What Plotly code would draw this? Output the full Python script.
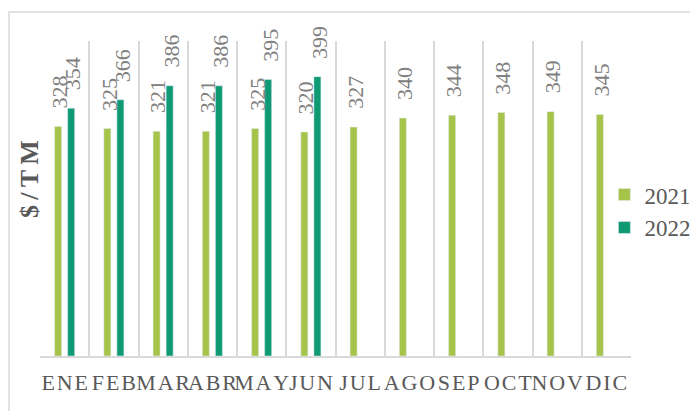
import plotly.graph_objects as go

months = ["ENE", "FEB", "MAR", "ABR", "MAY", "JUN", "JUL", "AGO", "SEP", "OCT", "NOV", "DIC"]
v2021 = [328, 325, 321, 321, 325, 320, 327, 340, 344, 348, 349, 345]
v2022 = [354, 366, 386, 386, 395, 399, None, None, None, None, None, None]
tick_text = ["\u200a".join(m) for m in months]
y_title = "$/TM"

c2021 = "#A6C34A"
c2022 = "#0F9A74"
font_family = "Liberation Serif"

fig = go.Figure()
fig.add_trace(go.Bar(name="2021", x=months, y=v2021, marker_color=c2021, legendgroup="a"))
fig.add_trace(go.Bar(name="2022", x=months, y=v2022, marker_color=c2022, legendgroup="b"))

annotations = []
for series, shift in ((v2021, -5), (v2022, 8)):
    for m, v in zip(months, series):
        if v is None:
            continue
        annotations.append(dict(
            x=m, y=v, xref="x", yref="y", text=str(v), showarrow=False,
            textangle=-90, xanchor="center", yanchor="bottom",
            xshift=shift, yshift=16,
            font=dict(family=font_family, size=22, color="#808080"),
        ))

# y-axis title (bold, letter-spaced, sits above the plot's vertical centre)
annotations.append(dict(
    x=0, y=0.562, xref="paper", yref="paper", xshift=-10,
    text="<b>" + "\u2009".join(y_title) + "</b>", showarrow=False,
    textangle=-90, xanchor="center", yanchor="middle",
    font=dict(family=font_family, size=26, color="#595959"),
))

# page body has an 8px margin: figure occupies x 8..698, y 8..411
fig.update_layout(
    width=690, height=403,
    margin=dict(l=32, r=67, t=33, b=55, autoexpand=False),
    paper_bgcolor="white", plot_bgcolor="white",
    barmode="group", bargap=0.47, bargroupgap=0.46,
    font=dict(family=font_family, color="#595959"),
    showlegend=True,
    legend=dict(x=0.955, xanchor="left", y=0.46, yanchor="middle",
                font=dict(family=font_family, size=23, color="#595959"),
                tracegroupgap=21, itemwidth=30, traceorder="normal",
                bgcolor="rgba(0,0,0,0)"),
    annotations=annotations,
    shapes=[dict(type="rect", xref="paper", yref="paper",
                 x0=(9 - 40) / 591, x1=2, y0=-2, y1=(356 - 12) / 315,
                 line=dict(color="#D9D9D9", width=1.5), fillcolor="rgba(0,0,0,0)", layer="below")],
)
fig.update_xaxes(
    type="category", tickmode="array", tickvals=months, ticktext=tick_text,
    tickson="boundaries", showgrid=True, gridcolor="#D9D9D9", gridwidth=1.5,
    showline=True, linecolor="#D9D9D9", linewidth=1.5, ticks="", tickangle=0,
    tickfont=dict(family=font_family, size=22, color="#595959"),
    ticklabelstandoff=6,
)
fig.update_yaxes(
    range=[0, 450], showgrid=False, showticklabels=False, zeroline=False,
)
fig.write_html("out.html")
